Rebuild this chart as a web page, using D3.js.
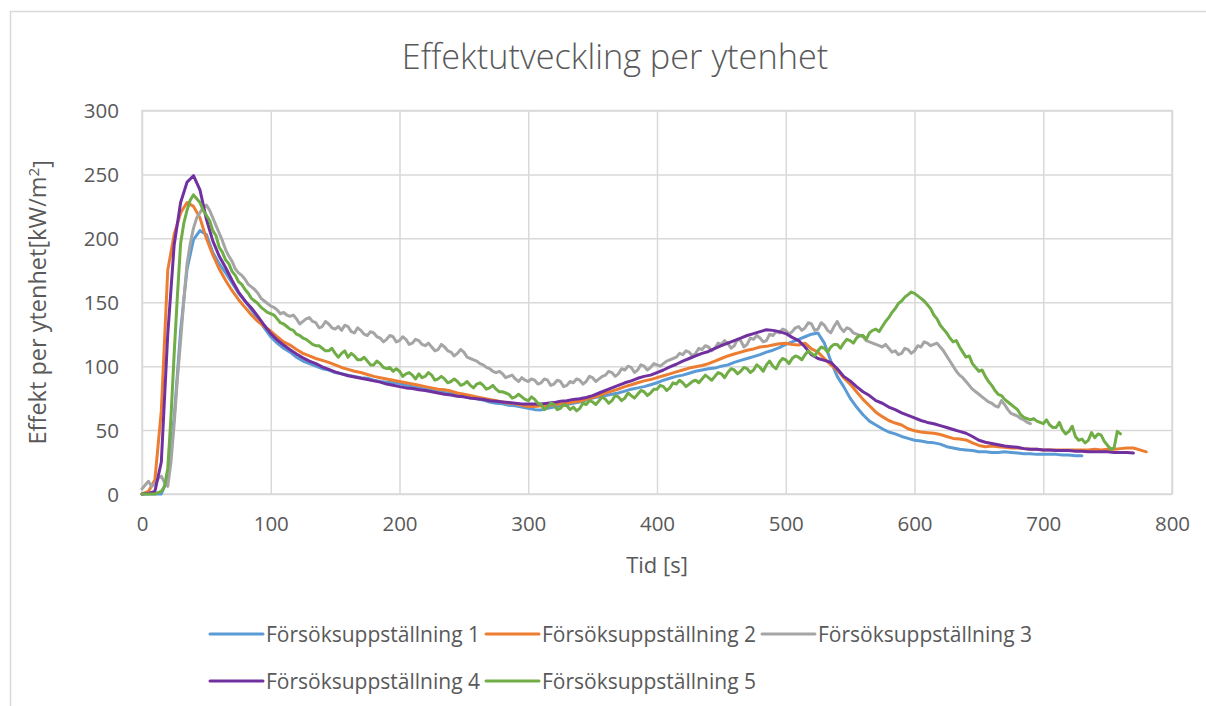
<!DOCTYPE html>
<html>
<head>
<meta charset="utf-8">
<script src="https://cdn.jsdelivr.net/npm/d3@7"></script>
<style>
  html, body { margin: 0; padding: 0; background: #fff; }
  svg { display: block; }
  text { font-family: "Open Sans", "Noto Sans", sans-serif; fill: #595959; }
</style>
</head>
<body>
<svg id="chart" width="1206" height="706"></svg>
<script>
// Heat release per unit area (kW/m²); each series is sampled at a fixed interval (s)
const seriesNames = ["Försöksuppställning 1", "Försöksuppställning 2", "Försöksuppställning 3",
                     "Försöksuppställning 4", "Försöksuppställning 5"];
const seriesColors = ["#5B9BD5", "#ED7D31", "#A5A5A5", "#7030A0", "#70AD47"];
const sampleSteps = [5, 5, 2.5, 5, 2.5];

const setup1 = [0,0,0,0,12,60,128,176,199,206,203,189,180,173,165,157,151,144,137,130,
  123,118,114,111,107,104,102,100,98,97,95,94,93,92,91,90.5,89,88,87.5,87,
  86.5,85,84,83,82,81,80,79.5,78.5,77,76,75,74.5,73.5,72,71,70.5,69.5,69,68,
  67,66,65.8,67,68,69,70,71,72,73.5,75,76,77,78,79,80.5,82,83,84,85.5,
  87,89,90.5,92,93,94.5,96,97,98,98.5,100,101,103,104.5,106,107.5,109,111,112.5,114.5,
  117,119,121,123,125,126,118,104,92,84,75,68,62,57,54,51,48.5,47,45,43.5,
  42,41.5,40.5,40,39,37,36,35,34.5,34,33,33,32.5,32.5,33,32.5,32,31.5,31.5,31,
  31,31,31,30.5,30.5,30,30];

const setup2 = [0,2,11,65,175,203,220,228,225,216,200,187,176,167,159,152,146,140,135,131,
  127.5,123,119,116.5,113,110,108,106,104.5,103,101,99,97.5,96,95,93.5,92,91,90,89,
  88,87,86,85,84,83,82,81.5,80.5,79,78,77,76,75,74,73,72,71,70.5,69.5,
  68.5,68.5,69,69,70,70.5,71,72,72.5,74,75.5,77,79,80.5,82,84,85.5,87,88.5,89.5,
  91,92.5,94,95.5,97,98.5,99.5,100.5,102,104,106,108,109.5,111,112.5,113.5,115,115.5,116.5,117.5,
  118,117,116.5,118,113.5,111,106,101,97,91,86,80,74,69,64,60.5,57.5,55.5,54,51,
  49.5,48.5,48,47.5,46.5,45,43.5,43,42.3,40,38,37,37.5,37,36.5,36,36,35.5,35,35,
  34.5,34.5,34.5,34.5,34.5,34.5,34.5,34.5,35,34.5,35,35,35.5,36,36,34.5,33];

const setup3 = [4,7,10,6,8,12,14,9,6,25,55,90,120,152,180,196,208,216,220,224,
  226,222,216,210,204,198,191,186,182,176,173,171,168,164,162,160,157,153,151,149,
  147,146,144,141,142,140,139,140,137,133,135,137,138,135,134,130,131,135,133,130,
  129,131,128,132,131,127,126,130,128,125,124,127,126,123,122,119,121,124,123,119,
  120,123,121,117,118,121,120,117,116,118,115,112,113,117,115,112,111,108,110,113,
  111,107,106,105,104,102,101,99,98,96,95,96,94,91,92,93,90,88,91,89,
  88,90,89,86,87,90,89,85,86,89,88,84,85,88,87,90,89,86,88,92,
  91,88,90,92,93,96,95,92,94,98,97,100,99,95,97,101,100,97,99,102,
  101,100,102,104,105,106,107,110,109,112,111,108,110,114,113,116,115,112,114,118,
  117,120,118,114,116,121,120,115,117,122,121,124,122,119,120,125,124,127,126,129,
  128,125,127,130,131,128,130,134,133,128,129,134,132,128,126,131,135,130,127,130,
  129,126,125,124,123,120,119,118,117,116,115,117,114,111,112,109,110,114,113,110,
  112,116,115,119,118,116,117,118,115,112,108,104,100,96,93,91,88,85,82,80,
  78,76,74,72,71,69,68,73,70,66,63,62,61,59,58,56,55];

const setup4 = [0,0.5,2,25,125,195,228,244,249,238,215,198,186,177,167,158,151,145.5,139,132,
  125.5,120.5,116.5,112.8,109.5,106.5,104,102,99.5,97.5,95.5,94,92.5,91.5,90.5,89.5,88.5,87.5,86,85,
  84,83,82.5,81.5,81,80,79,78,77.5,76.5,76,75,74.5,74,73,72.5,72,71.5,71,70.5,
  70.5,70.5,70.5,71,71.5,72.5,73,74,74.5,75.5,77,79,81,83,85,87,88.5,90.5,92,93,
  95,97,99.5,101.5,104,106,108,110,111.5,114,116,118,120,122,124,125.5,127,128.5,128,127,
  125.5,122.5,120,115,109,106,104.5,103,98,92,88.5,84,80,77,73,71,68,66,63.5,61.5,
  59.5,57.5,56,55,53.5,52,50.5,49,47.5,45,42,40.5,39.5,38.5,37.5,37,36.5,35.5,35,35,
  34.5,34.5,34,34,34,33.5,33.5,33,33,33,33,32.5,32.5,32.5,32];

const setup5 = [0,0,0,0,0,1,2,6,20,60,110,155,196,212,222,230,234,231,228,222,
  218,214,206,202,193,189,183,180,174,171,166,164,160,157,153,151,149,146,144,142,
  141,140,137,134,133,131,129,128,125,124,122,121,119,117,116,116,114,112,112,114,
  110,107,110,112,107,110,108,105,105,107,104,101,101,104,102,99,98,99,96,98,
  96,92,94,95,93,90,94,91,92,95,93,89,90,92,90,87,88,90,88,85,
  86,88,85,83,86,87,85,82,83,85,82,80,80,79,78,75,76,78,76,74,
  73,76,74,71,70,66,68,71,70,66,67,70,69,66,68,65,67,71,70,73,
  72,70,73,76,74,71,73,77,76,73,75,79,77,75,78,81,80,77,79,82,
  82,85,84,81,83,87,86,89,87,84,86,88,89,87,90,93,91,89,92,95,
  94,91,95,98,97,94,96,99,98,95,97,101,99,96,101,104,100,98,103,106,
  105,102,106,108,107,105,109,112,110,108,112,115,114,111,115,117,117,114,118,121,
  120,118,122,124,124,121,126,128,129,127,131,135,138,142,145,149,151,154,156,158,
  157,155,153,151,148,145,140,137,132,129,126,122,119,120,115,111,107,108,102,99,
  96,97,92,88,85,81,78,77,74,72,70,68,66,62,60,59,58,59,57,56,
  55,58,54,52,52,56,50,47,49,53,45,42,43,40,42,48,44,47,46,41,
  38,35,36,49,47];

const seriesValues = [setup1, setup2, setup3, setup4, setup5];

const xTicks = [0, 100, 200, 300, 400, 500, 600, 700, 800];
const yTicks = [0, 50, 100, 150, 200, 250, 300];

const chartTitle = "Effektutveckling per ytenhet";
const xTitle = "Tid [s]";

const svg = d3.select("#chart");
const plot = { left: 142, top: 110.5, right: 1172, bottom: 494 };

const x = d3.scaleLinear().domain([0, 800]).range([plot.left, plot.right]);
const y = d3.scaleLinear().domain([0, 300]).range([plot.bottom, plot.top]);

// outer chart frame
svg.append("rect")
  .attr("x", 10.5).attr("y", 11.5).attr("width", 1230).attr("height", 720)
  .attr("fill", "#fff").attr("stroke", "#d9d9d9").attr("stroke-width", 1.5);

// gridlines
const gridColor = "#d9d9d9";
svg.append("g")
  .attr("transform", `translate(${plot.left},0)`)
  .call(d3.axisLeft(y).tickValues(yTicks).tickSize(-(plot.right - plot.left)).tickFormat(""))
  .call(g => g.select(".domain").remove())
  .call(g => g.selectAll("line").attr("stroke", gridColor).attr("stroke-width", 1.5));

svg.append("g")
  .attr("transform", `translate(0,${plot.bottom})`)
  .call(d3.axisBottom(x).tickValues(xTicks).tickSize(-(plot.bottom - plot.top)).tickFormat(""))
  .call(g => g.select(".domain").remove())
  .call(g => g.selectAll("line").attr("stroke", gridColor).attr("stroke-width", 1.5));

// plot area border
svg.append("rect")
  .attr("x", plot.left).attr("y", plot.top)
  .attr("width", plot.right - plot.left).attr("height", plot.bottom - plot.top)
  .attr("fill", "none").attr("stroke", gridColor).attr("stroke-width", 1.5);

// tick labels
const tickFont = 20.5;
svg.append("g")
  .attr("transform", `translate(${plot.left - 23},0)`)
  .call(d3.axisLeft(y).tickValues(yTicks).tickSize(0).tickPadding(0))
  .call(g => g.select(".domain").remove())
  .call(g => g.selectAll("text").attr("font-size", tickFont).attr("font-family", null)
    .attr("fill", "#595959").attr("dy", "0.36em"));

svg.append("g")
  .attr("transform", `translate(0,${plot.bottom + 23})`)
  .call(d3.axisBottom(x).tickValues(xTicks).tickSize(0).tickPadding(0))
  .call(g => g.select(".domain").remove())
  .call(g => g.selectAll("text").attr("font-size", tickFont).attr("font-family", null)
    .attr("fill", "#595959").attr("dy", "0.7em"));

// data lines
svg.append("g").selectAll("path")
  .data(seriesValues)
  .join("path")
  .attr("d", (d, si) => d3.line()
      .x((v, i) => x(i * sampleSteps[si]))
      .y(v => y(v))(d))
  .attr("fill", "none")
  .attr("stroke", (d, i) => seriesColors[i])
  .attr("stroke-width", 3)
  .attr("stroke-linejoin", "round")
  .attr("stroke-linecap", "round");

// titles
svg.append("text")
  .attr("x", 615).attr("y", 69)
  .attr("text-anchor", "middle")
  .attr("font-size", 34.3)
  .attr("font-weight", 300)
  .text(chartTitle);

svg.append("text")
  .attr("x", (plot.left + plot.right) / 2).attr("y", 573)
  .attr("text-anchor", "middle")
  .attr("font-size", 22)
  .text(xTitle);

const yTitleSize = 23.5;
const yTitle = svg.append("text")
  .attr("transform", `translate(46,${(plot.top + plot.bottom) / 2}) rotate(-90)`)
  .attr("text-anchor", "middle")
  .attr("font-size", yTitleSize);
yTitle.append("tspan").text("Effekt per ytenhet[kW/m");
yTitle.append("tspan").attr("dy", "-0.45em").attr("font-size", yTitleSize * 0.65).text("2");
yTitle.append("tspan").attr("dy", "0.45em").text("]");

// legend: three columns per row
const legendFont = 21;
const legendRows = [[0, 1, 2], [3, 4]];
const rowY = [634, 681];
const colX = [210];
const legend = svg.append("g");
const tmp = legend.append("text").attr("font-size", legendFont);
const widths = seriesNames.map(n => { tmp.text(n); return tmp.node().getComputedTextLength(); });
tmp.remove();
for (let c = 1; c < 3; c++) colX.push(colX[c - 1] + 56 + Math.max(widths[c - 1], widths[c + 2] || 0) + 6);

legendRows.forEach((row, r) => {
  row.forEach((si, c) => {
    const g = legend.append("g").attr("transform", `translate(${colX[c]},${rowY[r]})`);
    g.append("line").attr("x1", 0).attr("x2", 53).attr("y1", 0).attr("y2", 0)
      .attr("stroke", seriesColors[si]).attr("stroke-width", 3).attr("stroke-linecap", "round");
    g.append("text").attr("x", 56).attr("y", 0).attr("dy", "0.36em")
      .attr("font-size", legendFont).text(seriesNames[si]);
  });
});
</script>
</body>
</html>
